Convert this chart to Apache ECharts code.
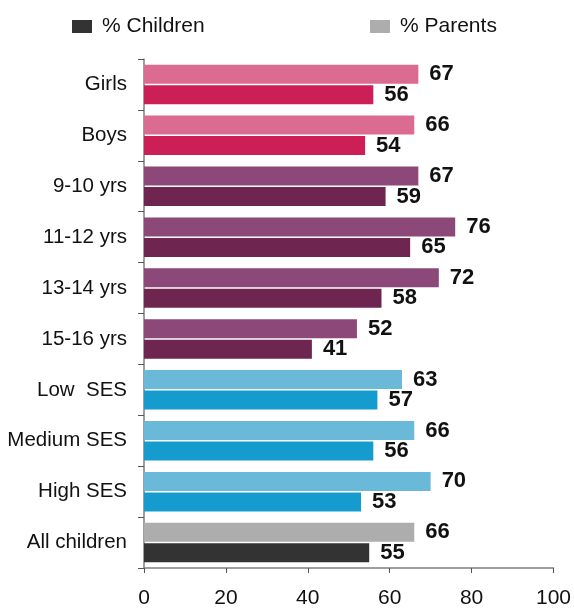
<!DOCTYPE html>
<html>
<head>
<meta charset="utf-8">
<script src="https://cdn.jsdelivr.net/npm/echarts@6/dist/echarts.min.js"></script>
<style>
html,body{margin:0;padding:0;background:#fff;}
#chart{width:574px;height:609px;}
</style>
</head>
<body>
<div id="chart"></div>
<script>
const categories = ['Girls','Boys','9-10 yrs','11-12 yrs','13-14 yrs','15-16 yrs','Low  SES','Medium SES','High SES','All children'];
const parentsValues = [67,66,67,76,72,52,63,66,70,66];
const childrenValues = [56,54,59,65,58,41,57,56,53,55];
const parentsColors = ['#DB6B90','#DB6B90','#8C4878','#8C4878','#8C4878','#8C4878','#6BB9D9','#6BB9D9','#6BB9D9','#ADADAD'];
const childrenColors = ['#CC1F57','#CC1F57','#6E2650','#6E2650','#6E2650','#6E2650','#169BCE','#169BCE','#169BCE','#333333'];
const xTicks = [0,20,40,60,80,100];

const font = 'Liberation Sans, Arial, sans-serif';
const chart = echarts.init(document.getElementById('chart'), null, {renderer:'canvas'});
const labelStyle = {show:true, position:'right', distance:11, fontFamily:font, fontSize:22, fontWeight:'bold', color:'#111'};
chart.setOption({
  animation:false,
  legend:[
    {data:['% Children'], left:72, top:16, padding:0, itemWidth:20, itemHeight:13, icon:'rect',
     textStyle:{fontFamily:font, fontSize:21, color:'#111', padding:[0,0,0,5]}},
    {data:['% Parents'], left:370, top:16, padding:0, itemWidth:20, itemHeight:13, icon:'rect',
     textStyle:{fontFamily:font, fontSize:21, color:'#111', padding:[0,0,0,5]}}
  ],
  grid:{left:144, right:18, top:59, bottom:40, containLabel:false},
  xAxis:{type:'value', min:xTicks[0], max:xTicks[xTicks.length-1], interval:20,
    axisLine:{show:true, lineStyle:{color:'#7f7f7f', width:1.5}},
    axisTick:{show:true, length:5, lineStyle:{color:'#555'}},
    splitLine:{show:false},
    axisLabel:{fontFamily:font, fontSize:21, color:'#111', margin:20}
  },
  yAxis:{type:'category', data:categories, inverse:true,
    axisLine:{show:true, lineStyle:{color:'#7f7f7f', width:1.5}},
    axisTick:{show:true, length:6, lineStyle:{color:'#555'}},
    axisLabel:{fontFamily:font, fontSize:20.5, color:'#111', margin:17}
  },
  series:[
    {name:'% Parents', type:'bar', barWidth:19, barGap:'8%',
     itemStyle:{color:'#ADADAD'},
     data:parentsValues.map((v,i)=>({value:v, itemStyle:{color:parentsColors[i]}})),
     label:labelStyle},
    {name:'% Children', type:'bar', barWidth:19, barGap:'8%',
     itemStyle:{color:'#333333'},
     data:childrenValues.map((v,i)=>({value:v, itemStyle:{color:childrenColors[i]}})),
     label:labelStyle}
  ]
});
</script>
</body>
</html>
